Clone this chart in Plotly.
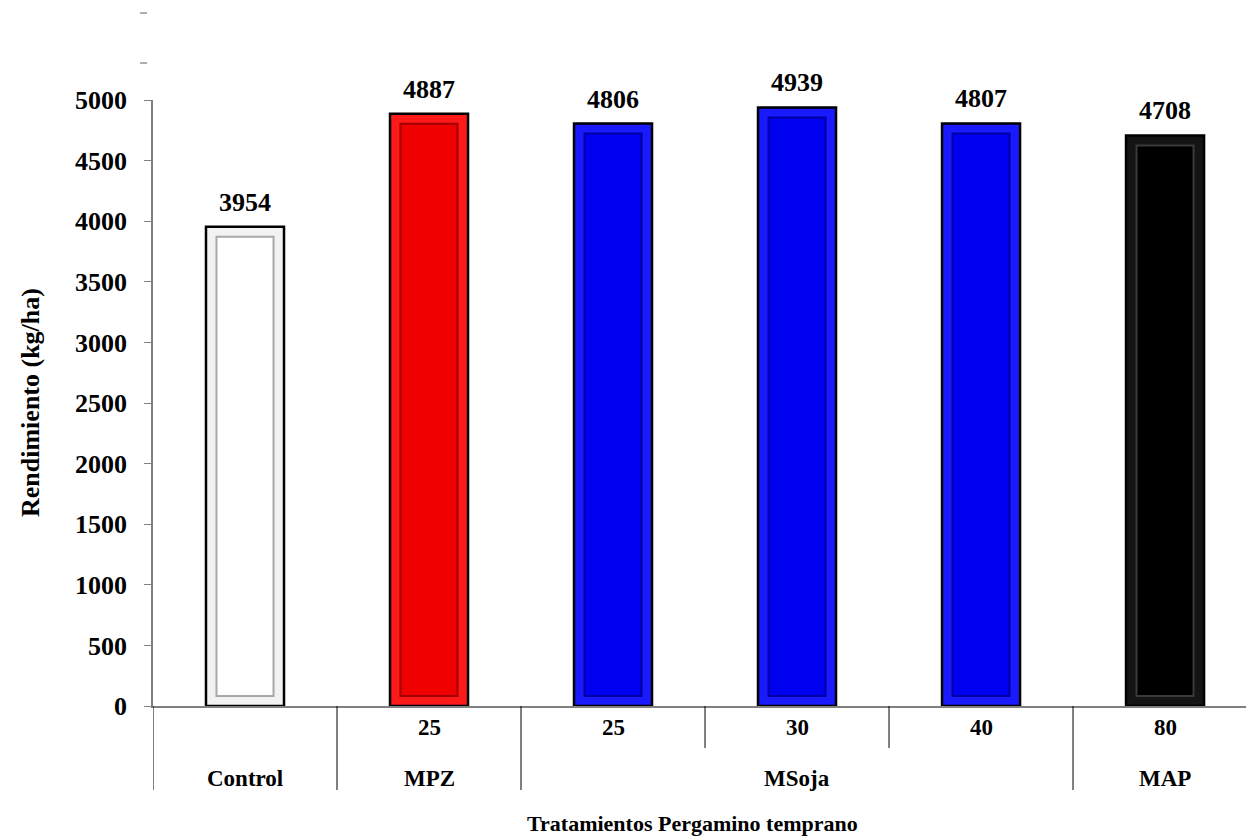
import plotly.graph_objects as go

# ---- data ----
groups = ["Control", "MPZ", "MSoja", "MSoja", "MSoja", "MAP"]
doses = ["", "25", "25", "30", "40", "80"]
values = [3954, 4887, 4806, 4939, 4807, 4708]
colors = ["#f2f2f2", "#ff1a1a", "#1a1aff", "#1a1aff", "#1a1aff", "#141414"]
inner_colors = ["#ffffff", "#f00000", "#0000f0", "#0000f0", "#0000f0", "#000000"]
edge_colors = ["#a8a8a8", "#a00000", "#0000a0", "#0000a0", "#0000a0", "#3a3a3a"]
y_ticks = [0, 500, 1000, 1500, 2000, 2500, 3000, 3500, 4000, 4500, 5000]

FONT = "Liberation Serif, Times New Roman, serif"
xs = list(range(len(values)))
W = 1093.0
H = 606.0

fig = go.Figure()
fig.add_trace(go.Bar(
    x=xs, y=values, width=0.424,
    marker=dict(color=colors, line=dict(color="black", width=2.5)),
    hoverinfo="skip", showlegend=False,
))
# inner bevel panel
inset = 83
fig.add_trace(go.Bar(
    x=xs, y=[v - 2 * inset for v in values], base=[inset] * len(values), width=0.31,
    marker=dict(color=inner_colors, line=dict(color=edge_colors, width=2)),
    hoverinfo="skip", showlegend=False,
))

# value labels
for x, v in zip(xs, values):
    fig.add_annotation(x=x, y=v, text=f"<b>{v}</b>", showarrow=False,
                       yanchor="bottom", yshift=8,
                       font=dict(family=FONT, size=26, color="black"))

# category labels (two rows)
row1_y = -(727 - 706) / H
row2_y = -(778 - 706) / H
row1_bot = -(748 - 706) / H
row2_bot = -(790 - 706) / H

for x, d in zip(xs, doses):
    if d:
        fig.add_annotation(x=x, y=row1_y, xref="x", yref="paper", text=f"<b>{d}</b>",
                           showarrow=False, yanchor="middle",
                           font=dict(family=FONT, size=23, color="black"))

# group spans
spans = []
start = 0
for i in range(1, len(groups) + 1):
    if i == len(groups) or groups[i] != groups[start]:
        spans.append((groups[start], start, i - 1))
        start = i
for name, a, b in spans:
    fig.add_annotation(x=(a + b) / 2, y=row2_y, xref="x", yref="paper", text=f"<b>{name}</b>",
                       showarrow=False, yanchor="middle",
                       font=dict(family=FONT, size=23, color="black"))

# dividers
line_style = dict(color="#000000", width=1)
bounds = [-0.5] + [b + 0.5 for _, _, b in spans]
for bx in bounds:
    fig.add_shape(type="line", xref="x", yref="paper", x0=bx, x1=bx, y0=0, y1=row2_bot,
                  line=line_style)
for name, a, b in spans:
    for k in range(a, b):
        fig.add_shape(type="line", xref="x", yref="paper", x0=k + 0.5, x1=k + 0.5, y0=0,
                      y1=row1_bot, line=line_style)

# stray dashes near top of y axis
for yp in [(706 - 13) / H, (706 - 63) / H]:
    fig.add_shape(type="line", xref="paper", yref="paper", x0=-13 / W, x1=-6 / W,
                  y0=yp, y1=yp, line=dict(color="#606060", width=1))

# axis titles
fig.add_annotation(x=(692 - 153) / W, y=-(823 - 706) / H, xref="paper", yref="paper",
                   text="<b>Tratamientos Pergamino temprano</b>", showarrow=False,
                   yanchor="middle", font=dict(family=FONT, size=22, color="black"))
fig.add_annotation(x=(30 - 153) / W, y=(706 - 403) / H, xref="paper", yref="paper",
                   text="<b>Rendimiento (kg/ha)</b>", showarrow=False, textangle=-90,
                   xanchor="center", yanchor="middle",
                   font=dict(family=FONT, size=26, color="black"))

fig.update_traces(cliponaxis=False)
fig.update_layout(
    width=1246, height=836,
    margin=dict(l=153, r=0, t=100, b=130),
    paper_bgcolor="white", plot_bgcolor="white",
    barmode="overlay",
    xaxis=dict(range=[-0.5, 5.44], showticklabels=False, showgrid=False, zeroline=False,
               showline=True, linecolor="#808080", linewidth=1.5, ticks=""),
    yaxis=dict(range=[0, 5000], tickvals=y_ticks, ticktext=[f"<b>{t}</b>" for t in y_ticks],
               showgrid=False, zeroline=False, showline=True, linecolor="#808080", linewidth=1.5,
               ticks="outside", ticklen=7, tickcolor="#808080", ticklabelstandoff=12,
               tickfont=dict(family=FONT, size=26, color="black")),
    font=dict(family=FONT),
)

fig.write_html("out.html")
